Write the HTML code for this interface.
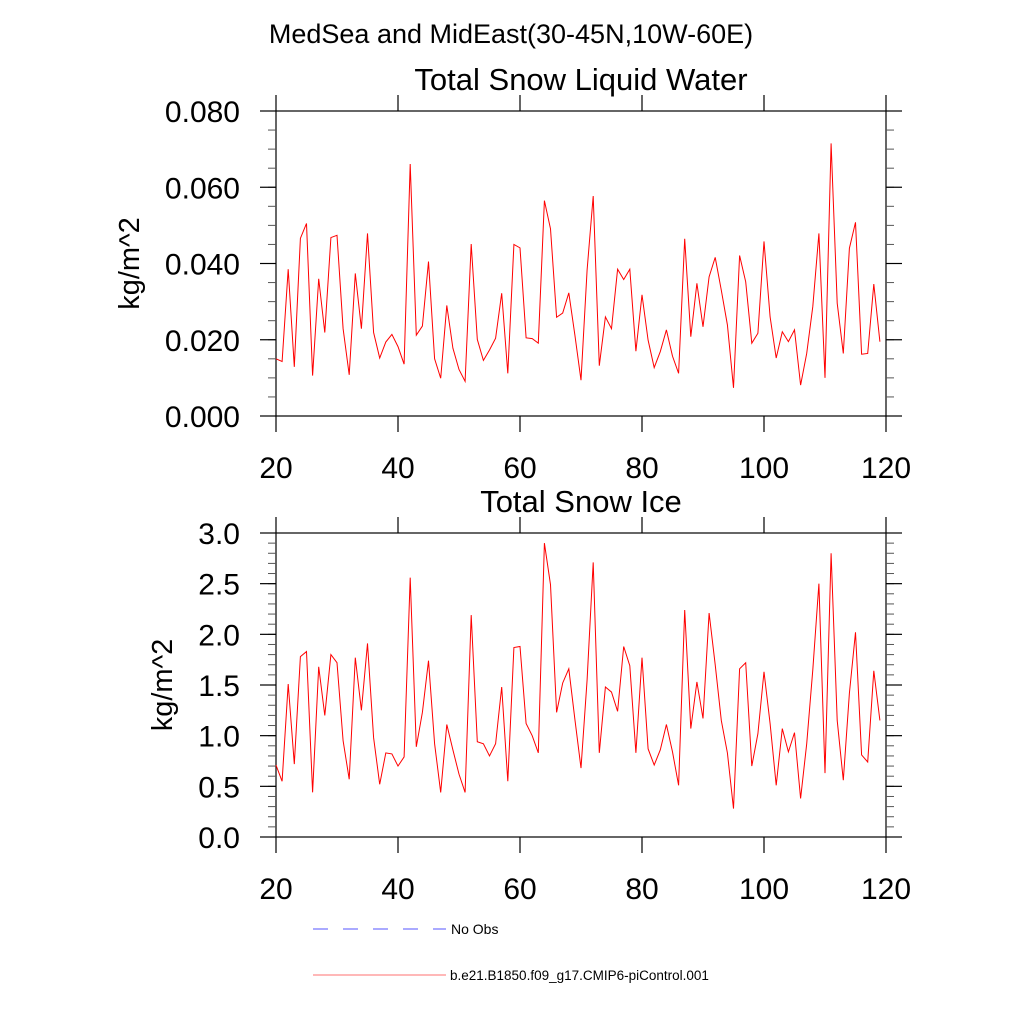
<!DOCTYPE html>
<html><head><meta charset="utf-8"><style>
html,body{margin:0;padding:0;background:#fff;}
svg{display:block;font-family:"Liberation Sans",sans-serif;}
</style></head><body>
<svg id="chart" width="1024" height="1024" xmlns="http://www.w3.org/2000/svg">
<text x="511" y="43" font-size="27" text-anchor="middle">MedSea and MidEast(30-45N,10W-60E)</text>
<g id="p1"></g>
<g id="p2"></g>
<g>
<line x1="313" y1="929" x2="446" y2="929" stroke="#5555ff" stroke-width="1" stroke-dasharray="15,15"/>
<text x="451" y="934" font-size="14">No Obs</text>
<line x1="313" y1="975" x2="446" y2="975" stroke="#ff7070" stroke-width="1"/>
<text x="450" y="980" font-size="13.5">b.e21.B1850.f09_g17.CMIP6-piControl.001</text>
</g>
</svg>
<script>
const years = []; for (let i = 20; i <= 119; i++) years.push(i);
const liquid = [0.0150,0.0143,0.0385,0.0129,0.0466,0.0505,0.0106,0.0360,0.0219,0.0468,
0.0474,0.0229,0.0108,0.0374,0.0229,0.0479,0.0219,0.0152,0.0194,0.0214,
0.0182,0.0136,0.0661,0.0212,0.0236,0.0405,0.0150,0.0099,0.0290,0.0178,
0.0122,0.0091,0.0451,0.0201,0.0146,0.0173,0.0204,0.0322,0.0112,0.0450,
0.0441,0.0205,0.0203,0.0191,0.0565,0.0491,0.0259,0.0270,0.0323,0.0212,
0.0094,0.0383,0.0577,0.0132,0.0260,0.0229,0.0385,0.0358,0.0385,0.0170,
0.0318,0.0199,0.0127,0.0169,0.0226,0.0157,0.0112,0.0465,0.0208,0.0348,
0.0234,0.0365,0.0416,0.0330,0.0239,0.0074,0.0421,0.0352,0.0191,0.0217,
0.0458,0.0260,0.0152,0.0221,0.0195,0.0226,0.0081,0.0164,0.0287,0.0479,
0.0100,0.0715,0.0296,0.0164,0.0440,0.0508,0.0162,0.0164,0.0346,0.0195];
const ice = [0.71,0.55,1.51,0.72,1.78,1.83,0.44,1.68,1.20,1.80,
1.72,0.95,0.57,1.77,1.25,1.91,0.98,0.52,0.83,0.82,
0.70,0.79,2.56,0.89,1.23,1.74,0.92,0.44,1.11,0.86,
0.62,0.44,2.19,0.94,0.92,0.80,0.92,1.48,0.55,1.87,
1.88,1.12,1.00,0.83,2.90,2.49,1.23,1.52,1.66,1.16,
0.68,1.55,2.71,0.83,1.48,1.43,1.24,1.88,1.69,0.83,
1.77,0.87,0.71,0.86,1.11,0.84,0.51,2.24,1.07,1.53,
1.17,2.21,1.70,1.15,0.83,0.28,1.66,1.72,0.70,1.02,
1.63,1.12,0.51,1.07,0.84,1.03,0.38,0.92,1.65,2.50,
0.63,2.80,1.15,0.56,1.42,2.02,0.81,0.74,1.64,1.15];
const xTicks = [20,40,60,80,100,120];
const liquidTicks = [0,0.02,0.04,0.06,0.08];
const liquidTickLabels = ["0.000","0.020","0.040","0.060","0.080"];
const iceTicks = [0,0.5,1,1.5,2,2.5,3];
const iceTickLabels = ["0.0","0.5","1.0","1.5","2.0","2.5","3.0"];

const NS = "http://www.w3.org/2000/svg";
function mk(parent, tag, attrs, txt){
  const e = document.createElementNS(NS, tag);
  for (const k in attrs) e.setAttribute(k, attrs[k]);
  if (txt !== undefined) e.textContent = txt;
  parent.appendChild(e); return e;
}
function panel(gid, top, bottom, ymax, yTicks, yLabels, minorStep, title, vals){
  const g = document.getElementById(gid);
  const L = 276, R = 886;
  const xs = v => L + (v - 20) / 100 * (R - L);
  const ys = v => bottom - v / ymax * (bottom - top);
  const t = mk(g, 'text', {x: 581, y: top - 21, 'font-size': 31, 'text-anchor': 'middle'}, title);
  
  
  const fr = mk(g, 'rect', {x: L, y: top, width: R - L, height: bottom - top, fill: 'none', stroke: '#000', 'stroke-width': 1.2});
  
  
  for (let v = 0; v <= ymax + 1e-9; v += minorStep) {
    const y = ys(v);
    const a = mk(g, 'line', {x1: L - 8, y1: y, x2: L, y2: y, stroke: '#555', 'stroke-width': 1});
    
    
    const b = mk(g, 'line', {x1: R, y1: y, x2: R + 8, y2: y, stroke: '#555', 'stroke-width': 1});
    
    
  }
  yTicks.forEach((v, i) => {
    const y = ys(v);
    const a = mk(g, 'line', {x1: L - 16, y1: y, x2: L, y2: y, stroke: '#000', 'stroke-width': 1.2});
    
    
    const b = mk(g, 'line', {x1: R, y1: y, x2: R + 16, y2: y, stroke: '#000', 'stroke-width': 1.2});
    
    
    const lb = mk(g, 'text', {x: 240, y: y + 11, 'font-size': 30, 'text-anchor': 'end'}, yLabels[i]);
    
    
  });
  xTicks.forEach(v => {
    const x = xs(v);
    const a = mk(g, 'line', {x1: x, y1: bottom, x2: x, y2: bottom + 16, stroke: '#000', 'stroke-width': 1.2});
    
    
    const b = mk(g, 'line', {x1: x, y1: top - 16, x2: x, y2: top, stroke: '#000', 'stroke-width': 1.2});
    
    
    const lb = mk(g, 'text', {x: x, y: bottom + 62, 'font-size': 30, 'text-anchor': 'middle'}, String(v));
    
    
  });
  const cy = (top + bottom) / 2;
  const yt = mk(g, 'text', {x: 0, y: 0, 'font-size': 29, 'text-anchor': 'middle', transform: `translate(${gid === 'p1' ? 139 : 172},${cy}) rotate(-90)`}, 'kg/m^2');
  
  
  const pts = vals.map((v, i) => xs(years[i]).toFixed(2) + ',' + ys(v).toFixed(2)).join(' ');
  const pl = mk(g, 'polyline', {points: pts, fill: 'none', stroke: '#ff0000', 'stroke-width': 1});
  
  
}
panel('p1', 111, 416, 0.08, liquidTicks, liquidTickLabels, 0.005, 'Total Snow Liquid Water', liquid);
panel('p2', 533, 837, 3.0, iceTicks, iceTickLabels, 0.1, 'Total Snow Ice', ice);
</script>
</body></html>
